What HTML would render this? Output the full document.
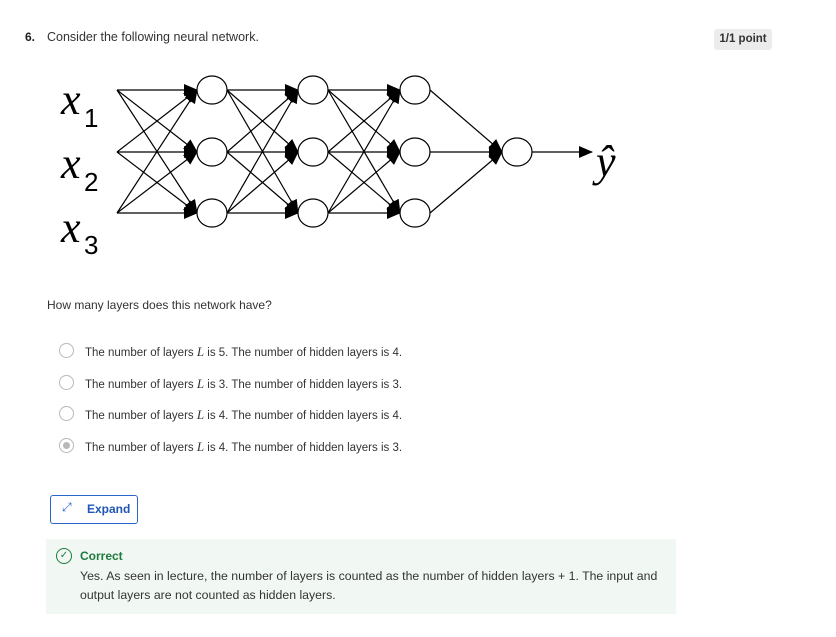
<!DOCTYPE html>
<html><head><style>
body{margin:0;width:836px;height:637px;background:#fff;font-family:"Liberation Sans",sans-serif;color:#1f1f1f;position:relative;overflow:hidden}
.a{position:absolute}
.t{font-size:12px;color:#333}
.o{font-size:11.5px;color:#333}
.r{position:absolute;left:59px;width:13px;height:13px;border:1.5px solid #b8b8b8;border-radius:50%;background:#fff}
</style></head><body>
<div class="a" style="left:25px;top:30px;font-size:12px;font-weight:bold">6.</div>
<div class="a t" style="left:47px;top:30px;font-size:12.5px">Consider the following neural network.</div>
<div class="a" style="left:714px;top:29px;width:58px;height:21px;background:#ececec;border-radius:3px;font-size:11.5px;font-weight:bold;line-height:21px;text-align:center;color:#333">1/1 point</div>
<svg class="a" style="left:0;top:0" width="836" height="280">
<defs><marker id="m" markerUnits="userSpaceOnUse" markerWidth="14" markerHeight="12" refX="13" refY="6" orient="auto"><path d="M0,0 L14,6 L0,12 Z" fill="#000"/></marker></defs>
<g stroke="#000" stroke-width="1.2" fill="none" marker-end="url(#m)">
<line x1="117" y1="90" x2="197" y2="90"/><line x1="117" y1="90" x2="197" y2="152"/><line x1="117" y1="90" x2="197" y2="213"/>
<line x1="117" y1="152" x2="197" y2="90"/><line x1="117" y1="152" x2="197" y2="152"/><line x1="117" y1="152" x2="197" y2="213"/>
<line x1="117" y1="213" x2="197" y2="90"/><line x1="117" y1="213" x2="197" y2="152"/><line x1="117" y1="213" x2="197" y2="213"/>
<line x1="227" y1="90" x2="298" y2="90"/><line x1="227" y1="90" x2="298" y2="152"/><line x1="227" y1="90" x2="298" y2="213"/>
<line x1="227" y1="152" x2="298" y2="90"/><line x1="227" y1="152" x2="298" y2="152"/><line x1="227" y1="152" x2="298" y2="213"/>
<line x1="227" y1="213" x2="298" y2="90"/><line x1="227" y1="213" x2="298" y2="152"/><line x1="227" y1="213" x2="298" y2="213"/>
<line x1="328" y1="90" x2="400" y2="90"/><line x1="328" y1="90" x2="400" y2="152"/><line x1="328" y1="90" x2="400" y2="213"/>
<line x1="328" y1="152" x2="400" y2="90"/><line x1="328" y1="152" x2="400" y2="152"/><line x1="328" y1="152" x2="400" y2="213"/>
<line x1="328" y1="213" x2="400" y2="90"/><line x1="328" y1="213" x2="400" y2="152"/><line x1="328" y1="213" x2="400" y2="213"/>
<line x1="430" y1="90" x2="502" y2="152"/><line x1="430" y1="152" x2="502" y2="152"/><line x1="430" y1="213" x2="502" y2="152"/>
<line x1="532" y1="152" x2="592" y2="152"/>
</g>
<g stroke="#000" stroke-width="1.2" fill="#fff">
<ellipse cx="212" cy="90" rx="15" ry="14"/><ellipse cx="212" cy="152" rx="15" ry="14"/><ellipse cx="212" cy="213" rx="15" ry="14"/>
<ellipse cx="313" cy="90" rx="15" ry="14"/><ellipse cx="313" cy="152" rx="15" ry="14"/><ellipse cx="313" cy="213" rx="15" ry="14"/>
<ellipse cx="415" cy="90" rx="15" ry="14"/><ellipse cx="415" cy="152" rx="15" ry="14"/><ellipse cx="415" cy="213" rx="15" ry="14"/>
<ellipse cx="517" cy="152" rx="15" ry="14"/>
</g>
<g font-family="Liberation Serif,serif" font-style="italic" font-size="44" fill="#000">
<text x="61" y="114">x</text><text x="61" y="178">x</text><text x="61" y="242">x</text>
<text x="596" y="176">ŷ</text>
</g>
<g font-family="Liberation Sans,sans-serif" font-size="26" fill="#000">
<text x="84" y="127">1</text><text x="84" y="191">2</text><text x="84" y="254">3</text>
</g>
</svg>
<div class="a t" style="left:47px;top:298px">How many layers does this network have?</div>
<div class="r" style="top:343px"></div>
<div class="r" style="top:375px"></div>
<div class="r" style="top:406px"></div>
<div class="r" style="top:438px"><div style="position:absolute;left:3px;top:3px;width:7px;height:7px;border-radius:50%;background:#b8b8b8"></div></div>
<div class="a o" style="left:85px;top:344px">The number of layers <i style="font-family:'Liberation Serif',serif;font-size:13px">L</i> is 5. The number of hidden layers is 4.</div>
<div class="a o" style="left:85px;top:376px">The number of layers <i style="font-family:'Liberation Serif',serif;font-size:13px">L</i> is 3. The number of hidden layers is 3.</div>
<div class="a o" style="left:85px;top:407px">The number of layers <i style="font-family:'Liberation Serif',serif;font-size:13px">L</i> is 4. The number of hidden layers is 4.</div>
<div class="a o" style="left:85px;top:439px">The number of layers <i style="font-family:'Liberation Serif',serif;font-size:13px">L</i> is 4. The number of hidden layers is 3.</div>
<div class="a" style="left:50px;top:495px;width:88px;height:29px;border:1px solid #2a66c9;border-radius:3px;box-sizing:border-box"></div>
<div class="a" style="left:62px;top:500px;font-size:12px;color:#2a66c9">⤢</div>
<div class="a" style="left:87px;top:502px;font-size:12px;font-weight:bold;color:#1f56b8">Expand</div>
<div class="a" style="left:46px;top:539px;width:630px;height:75px;background:#f1f8f3"></div>
<div class="a" style="left:56px;top:548px;width:14px;height:14px;border:1px solid #1e7a3e;border-radius:50%;font-size:10px;line-height:14px;text-align:center;color:#1e7a3e">✓</div>
<div class="a" style="left:80px;top:549px;font-size:12px;font-weight:bold;color:#1e7a3e">Correct</div>
<div class="a t" style="left:80px;top:567px;line-height:19px;width:600px;font-size:12.3px">Yes. As seen in lecture, the number of layers is counted as the number of hidden layers + 1. The input and output layers are not counted as hidden layers.</div>
</body></html>
